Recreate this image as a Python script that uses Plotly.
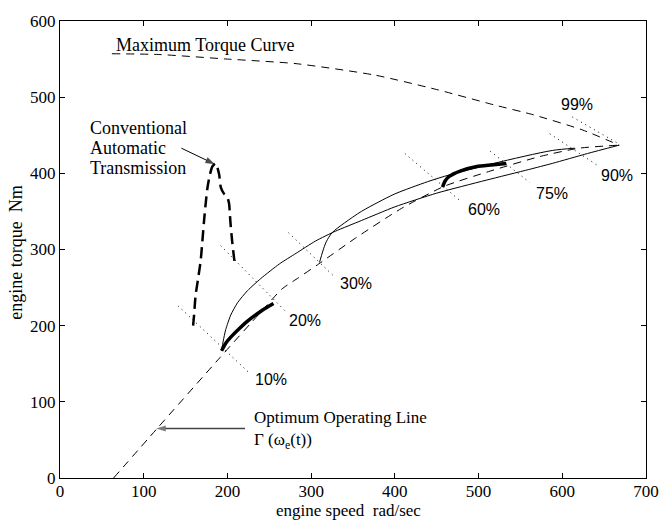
import plotly.graph_objects as go

# ---------------- data ----------------
max_torque_x = [62, 118, 200, 282, 376, 450, 518, 565, 624, 668]
max_torque_y = [557, 556, 550, 544, 529, 510, 490, 477, 457, 437]

optimum_x = [64, 116, 191, 240, 265, 285, 309, 353, 408, 459, 514, 573, 620, 668]
optimum_y = [0, 65, 158, 218, 248, 263, 281, 315, 354, 383, 403, 422, 433, 437]

cat_x = [159, 160, 162, 165, 168, 170, 172, 174, 176, 179, 182, 186,
         190, 192, 196, 200, 202, 203, 204, 206, 208, 209]
cat_y = [200, 212, 240, 262, 285, 310, 337, 360, 380, 398, 409, 413,
         399, 382, 373, 368, 360, 345, 330, 307, 288, 278]

thick1_x = [193, 198, 204, 214, 224, 240, 255]
thick1_y = [167, 177, 185, 196, 206, 219, 229]

thick2_x = [457, 460, 465, 478, 498, 515, 533]
thick2_y = [382, 390, 396, 403, 409, 411, 413]

curveA_x = [193, 195, 198, 204, 212, 224, 240, 262, 282, 305, 329, 360,
            400, 450, 509, 560, 588, 630, 668]
curveA_y = [167, 180, 195, 214, 230, 246, 262, 281, 295, 311, 324, 338,
            356, 374, 391, 405, 413, 426, 437]

curveB_x = [310, 314, 318, 325, 340, 360, 380, 400, 439, 459, 518, 588, 615]
curveB_y = [283, 298, 310, 322, 335, 350, 362, 373, 389, 396, 413, 430, 433]

dotted_lines = {
    "10%": ([141, 228], [226, 136]),
    "20%": ([192, 271], [305, 217]),
    "30%": ([273, 329], [322, 263]),
    "60%": ([412, 478], [426, 364]),
    "75%": ([514, 561], [429, 388]),
    "90%": ([585, 644], [452, 409]),
    "99%": ([612, 667], [474, 439]),
}
pct_label_x = [252, 293, 353, 506, 588, 665, 617]
pct_label_y = [129, 207, 256, 353, 374, 397, 491]
pct_labels = ["10%", "20%", "30%", "60%", "75%", "90%", "99%"]

# annotation arrows: (tail, head)
cat_arrow_x = [145, 185]
cat_arrow_y = [433, 412]
opt_arrow_x = [221, 115]
opt_arrow_y = [65, 65]

x_ticks = [0, 100, 200, 300, 400, 500, 600, 700]
y_ticks = [0, 100, 200, 300, 400, 500, 600]

SERIF = "Liberation Serif, Times New Roman, serif"
SANS = "Liberation Sans, Arial, sans-serif"

fig = go.Figure()

def add_line(x, y, width=1, dash="solid", color="black", smoothing=0.6):
    fig.add_trace(go.Scatter(x=x, y=y, mode="lines",
                             line=dict(color=color, width=width, dash=dash,
                                       shape="spline", smoothing=smoothing),
                             hoverinfo="skip", showlegend=False))

def add_arrow(x, y, width, color):
    fig.add_trace(go.Scatter(x=x, y=y, mode="lines+markers",
                             line=dict(color=color, width=width),
                             marker=dict(symbol="arrow", size=[0, 10], angleref="previous",
                                         color=color, line=dict(width=0)),
                             hoverinfo="skip", showlegend=False))

for name, (dx, dy) in dotted_lines.items():
    fig.add_trace(go.Scatter(x=dx, y=dy, mode="lines",
                             line=dict(color="black", width=1, dash="1px,4px"),
                             hoverinfo="skip", showlegend=False))

add_line(max_torque_x, max_torque_y, 1, "8px,6px")
add_line(optimum_x, optimum_y, 1, "8px,6px")
add_line(curveA_x, curveA_y, 1)
add_line(curveB_x, curveB_y, 1, smoothing=0.8)
add_line(cat_x, cat_y, 2.5, "11px,6px")
add_line(thick1_x, thick1_y, 3.5)
add_line(thick2_x, thick2_y, 3.5)
add_arrow(cat_arrow_x, cat_arrow_y, 1, "black")
add_arrow(opt_arrow_x, opt_arrow_y, 1.5, "#444")

annotations = []
for t, lx, ly in zip(pct_labels, pct_label_x, pct_label_y):
    annotations.append(dict(x=lx, y=ly, xref="x", yref="y", text=t, showarrow=False,
                            font=dict(family=SANS, size=16, color="black"),
                            xanchor="center", yanchor="middle"))

def txt(x, y, s, size=18):
    annotations.append(dict(x=x, y=y, xref="x", yref="y", text=s, showarrow=False,
                            font=dict(family=SERIF, size=size, color="black"),
                            xanchor="left", yanchor="middle", align="left"))

txt(64, 569, "Maximum Torque Curve")
txt(33, 459, "Conventional")
txt(33, 433, "Automatic")
txt(33, 407, "Transmission")
txt(229, 63, "Optimum Operating Line<br>\u0393 (\u03c9<sub>e</sub>(t))", size=17)

# axis titles
annotations.append(dict(x=0.4924, y=-0.0937, xref="paper", yref="paper",
                        text="engine speed\u00a0 rad/sec", showarrow=False,
                        font=dict(family=SERIF, size=17, color="black"),
                        xanchor="center", yanchor="bottom", borderpad=0))
annotations.append(dict(x=-0.0740, y=0.492, xref="paper", yref="paper",
                        text="engine torque\u00a0 Nm", showarrow=False, textangle=-90,
                        font=dict(family=SERIF, size=18, color="black"),
                        xanchor="center", yanchor="middle"))

axis_common = dict(showgrid=False, zeroline=False, showline=True, linecolor="black",
                   linewidth=1, mirror="ticks", ticks="inside", ticklen=5,
                   tickcolor="black", tickwidth=1,
                   tickfont=dict(family=SERIF, size=17, color="black"))

fig.update_layout(
    width=671, height=521,
    margin=dict(l=60, r=16, t=19, b=43),
    paper_bgcolor="white", plot_bgcolor="white",
    xaxis=dict(range=[0, 700], tickvals=x_ticks, ticktext=[str(v) for v in x_ticks],
               ticklabelstandoff=-2, **axis_common),
    yaxis=dict(range=[0, 600], tickvals=y_ticks, ticktext=[str(v) for v in y_ticks], **axis_common),
    annotations=annotations,
)

fig.write_html("out.html")
